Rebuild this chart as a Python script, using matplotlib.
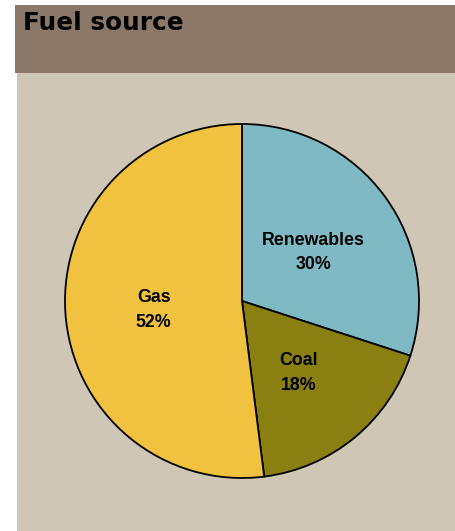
import matplotlib
matplotlib.use("Agg")
import matplotlib.pyplot as plt
from matplotlib.patches import Rectangle
from matplotlib.transforms import offset_copy

categories = ["Renewables", "Coal", "Gas"]
values = [30, 18, 52]
colors = ["#7FBAC4", "#8A8012", "#F0C23F"]
title = "Fuel source"

W, H = 455, 531
fig = plt.figure(figsize=(W / 100, H / 100), dpi=100)
fig.patch.set_facecolor("white")

def fx(px):
    return px / W

def fy(py):
    return 1 - py / H

# beige panel
fig.patches.append(Rectangle((fx(17), 0), fx(455) - fx(17), fy(73), transform=fig.transFigure,
                             facecolor="#D0C6B5", edgecolor="none", zorder=-2))
# title bar
fig.patches.append(Rectangle((fx(15), fy(73)), fx(455) - fx(15), fy(5) - fy(73), transform=fig.transFigure,
                             facecolor="#8B7868", edgecolor="none", zorder=-2))
fig.text(fx(23), fy(23.5), title, fontsize=17.8, fontweight="bold", family="DejaVu Sans",
         color="black", ha="left", va="center")

cx, cy, r = 242, 301, 177
ax = fig.add_axes([fx(cx - r), fy(cy + r), 2 * r / W, 2 * r / H])
ax.set_zorder(1)
labels = [f"{c}\n{v}%" for c, v in zip(categories, values)]
wedges, texts = ax.pie(values, colors=colors, startangle=90, counterclock=False,
                       labels=labels, labeldistance=0.5,
                       wedgeprops=dict(edgecolor="black", linewidth=1.3),
                       textprops=dict(fontsize=12.8, fontweight="bold", family="Liberation Sans",
                                      color="black"))
shifted = offset_copy(ax.transData, fig=fig, x=0, y=-3.5, units="dots")
for t in texts:
    t.set_ha("center")
    t.set_va("center")
    t.set_multialignment("center")
    t.set_linespacing(1.6)
    t.set_transform(shifted)
ax.set_xlim(-1, 1)
ax.set_ylim(-1, 1)
ax.set_aspect("auto")
ax.axis("off")

fig.savefig("out.png", dpi=100)
